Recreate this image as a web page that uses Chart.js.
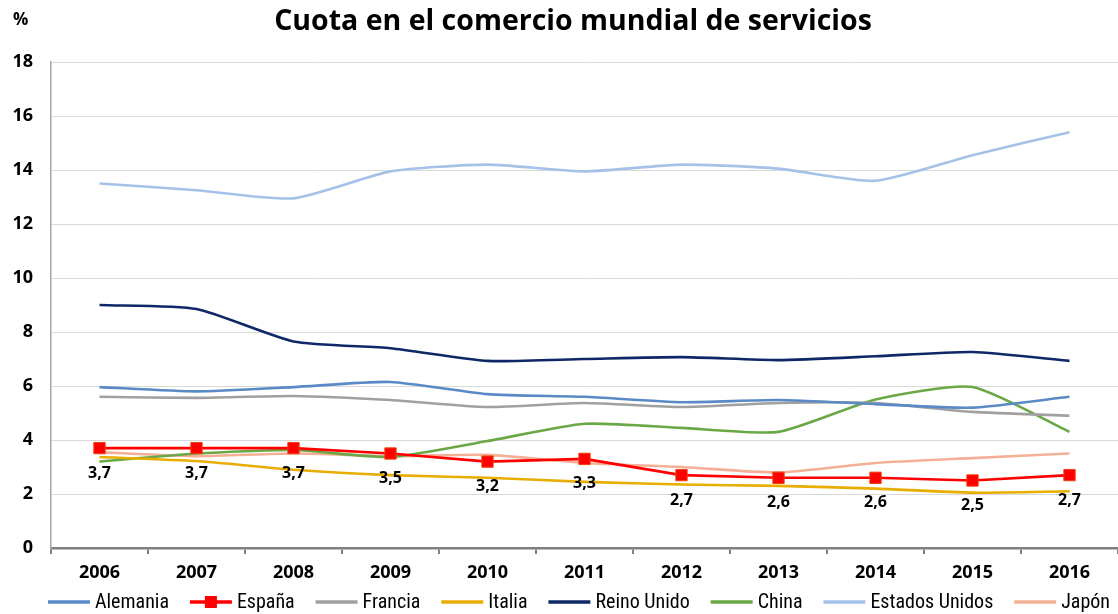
<!DOCTYPE html>
<html><head><meta charset="utf-8">
<script src="https://cdn.jsdelivr.net/npm/chart.js@4/dist/chart.umd.min.js"></script>
<style>html,body{margin:0;padding:0;background:#fff}#wrap{width:1118px;height:614px;position:relative}</style>
</head><body><div id="wrap"><canvas id="c" width="1118" height="614"></canvas></div>
<script>
const years = ['2006','2007','2008','2009','2010','2011','2012','2013','2014','2015','2016'];
const yTicks = [0,2,4,6,8,10,12,14,16,18];
const alemania = [5.96,5.8,5.96,6.15,5.7,5.6,5.4,5.48,5.33,5.2,5.6];
const espana = [3.7,3.7,3.7,3.5,3.2,3.3,2.7,2.6,2.6,2.5,2.7];
const francia = [5.6,5.56,5.63,5.48,5.22,5.37,5.22,5.37,5.37,5.04,4.9];
const italia = [3.37,3.22,2.9,2.7,2.6,2.45,2.35,2.3,2.2,2.05,2.1];
const reinoUnido = [9.0,8.85,7.65,7.4,6.93,7.0,7.07,6.96,7.1,7.26,6.93];
const china = [3.2,3.5,3.63,3.37,3.96,4.6,4.45,4.3,5.5,5.96,4.3];
const eeuu = [13.5,13.25,12.95,13.95,14.2,13.95,14.2,14.05,13.6,14.55,15.4];
const japon = [3.55,3.4,3.5,3.4,3.45,3.15,3.0,2.8,3.15,3.33,3.5];

const COL = {
  alemania:'#5a8ac6', espana:'#ff0000', francia:'#a0a0a0', italia:'#e8ad00',
  reino:'#0e2867', china:'#6aa745', eeuu:'#a4c2e8', japon:'#f4b096'
};

function line(label, data, color, extra) {
  return Object.assign({label, data, borderColor: color, backgroundColor: color,
    borderWidth: 2.6, pointRadius: 0, tension: 0.2, fill: false}, extra || {});
}

const datasets = [
  line('Alemania', alemania, COL.alemania),
  line('España', espana, COL.espana, {pointStyle:'rect', pointRadius:8, pointHoverRadius:8,
       pointBackgroundColor:'#ff0000', pointBorderColor:'#f04010', pointBorderWidth:1, tension:0, order:-1}),
  line('Francia', francia, COL.francia),
  line('Italia', italia, COL.italia),
  line('Reino Unido', reinoUnido, COL.reino),
  line('China', china, COL.china),
  line('Estados Unidos', eeuu, COL.eeuu),
  line('Japón', japon, COL.japon)
];

const decor = {
  id: 'decor',
  afterDraw(chart) {
    const ctx = chart.ctx;
    ctx.save();
    ctx.fillStyle = '#000';
    ctx.textAlign = 'center'; ctx.textBaseline = 'middle';
    ctx.font = 'bold 28.5px "Open Sans", sans-serif';
    ctx.fillText('Cuota en el comercio mundial de servicios', 573, 22);
    ctx.textAlign = 'left';
    ctx.font = 'bold 17px "Open Sans", sans-serif';
    ctx.fillText('%', 13, 20);
    const meta = chart.getDatasetMeta(1);
    ctx.font = 'bold 16px "Open Sans", sans-serif';
    ctx.textAlign = 'center';
    meta.data.forEach((pt, i) => {
      ctx.fillText(espana[i].toFixed(1).replace('.', ','), pt.x, pt.y + 25);
    });
    ctx.font = '20px "Liberation Sans Narrow", "Roboto Condensed", "Liberation Sans", sans-serif';
    ctx.textBaseline = 'middle'; ctx.textAlign = 'left';
    const lineLen = 42, gapLT = 5, left = 48, right = 1110, ly = 602;
    const widths = datasets.map(d => ctx.measureText(d.label).width);
    const itemW = widths.map(w => lineLen + gapLT + w);
    const sum = itemW.reduce((a,b)=>a+b,0);
    const gap = (right - left - sum) / (datasets.length - 1);
    let x = left;
    datasets.forEach((d, i) => {
      ctx.strokeStyle = d.borderColor; ctx.lineWidth = 3.5;
      ctx.beginPath(); ctx.moveTo(x, ly); ctx.lineTo(x + lineLen, ly); ctx.stroke();
      if (i === 1) {
        ctx.fillStyle = '#ff0000';
        ctx.fillRect(x + lineLen/2 - 6, ly - 6, 12, 12);
      }
      ctx.fillStyle = '#000';
      ctx.fillText(d.label, x + lineLen + gapLT, ly + 1);
      x += itemW[i] + gap;
    });
    ctx.restore();
  }
};

new Chart(document.getElementById('c'), {
  type: 'line',
  data: { labels: years, datasets },
  options: {
    responsive: false, animation: false,
    layout: { autoPadding: false, padding: { top: 62, bottom: 30, left: 0, right: 0 } },
    plugins: { legend: { display: false }, title: { display: false }, tooltip: { enabled: false } },
    scales: {
      x: {
        offset: true,
        grid: { offset: true, drawOnChartArea: false, drawTicks: true, tickLength: 6, color: '#7f7f7f', lineWidth: 2 },
        border: { color: '#7f7f7f', width: 2.5 },
        ticks: { color: '#000', font: { family: '"Open Sans", sans-serif', size: 18, weight: 'bold' }, padding: 8, maxRotation: 0 },
        afterFit(s) { s.height = 36; s.paddingLeft = 0; s.paddingRight = 0; }
      },
      y: {
        min: 0, max: 18,
        afterBuildTicks(s) { s.ticks = yTicks.map(v => ({ value: v })); },
        grid: { color: '#d9d9d9', lineWidth: 1, drawTicks: false },
        border: { color: '#a6a6a6', width: 1.5 },
        ticks: { color: '#000', font: { family: '"Open Sans", sans-serif', size: 18, weight: 'bold' }, padding: 18 },
        afterFit(s) { s.width = 51; s.paddingTop = 0; s.paddingBottom = 0; }
      }
    }
  },
  plugins: [decor]
});
</script></body></html>
